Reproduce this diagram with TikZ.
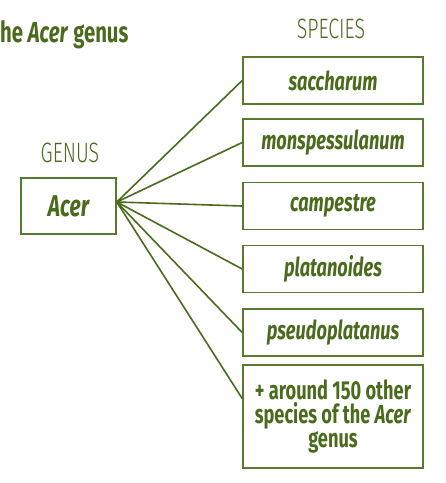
\documentclass[tikz,border=0pt]{standalone}
\usepackage{fontspec}
\setmainfont{Fira Sans}[FakeStretch=0.7]
\newfontfamily\lightfont{Fira Sans Light}[FakeStretch=0.7]
\usepackage{tikz}
\usepackage{xcolor}
\usetikzlibrary{positioning}
\definecolor{AcerGreen}{HTML}{4A6A1C}
\definecolor{AcerEdge}{HTML}{587A2C}
\tikzset{
    % Box styles
    speciesbox/.style={
        rectangle,
        draw=AcerEdge,
        line width=1.6pt,
        minimum width=180pt,
        minimum height=47pt,
        inner sep=0pt,
        align=center,
        text=AcerGreen,
        font=\fontsize{26}{24}\selectfont\bfseries\itshape
    },
    genusbox/.style={
        rectangle,
        draw=AcerEdge,
        line width=1.6pt,
        minimum width=95pt,
        minimum height=56pt,
        inner sep=0pt,
        text=AcerGreen,
        font=\fontsize{30}{30}\selectfont\bfseries\itshape
    },
    % Label styles
    headlabel/.style={
        inner sep=0pt,
        anchor=base,
        text=AcerGreen,
        font=\lightfont\fontsize{28}{28}\selectfont
    },
    % Connector style
    branch/.style={
        draw=AcerGreen,
        line width=1.6pt
    }
}
\begin{document}
\begin{tikzpicture}[x=1pt, y=-1pt]
    \useasboundingbox (0,0) rectangle (446,483);

    % Title (cut at the left edge)
    \node[inner sep=0pt, anchor=base west, text=AcerGreen,
          font=\fontsize{29}{29}\selectfont\bfseries] (title) at (0,42)
          {he \textit{Acer} genus};

    % Column heads
    \node[headlabel] (specieshead) at (331,38) {SPECIES};
    \node[headlabel] (genushead) at (70,162) {GENUS};

    % Genus
    \node[genusbox] (acer) at (68.5,206) {Acer};

    % Species
    \node[speciesbox] (saccharum) at (333,80.5) {saccharum};
    \node[speciesbox] (monspessulanum) at (333,142.5) {monspessulanum};
    \node[speciesbox] (campestre) at (333,206) {campestre};
    \node[speciesbox] (platanoides) at (333,269) {platanoides};
    \node[speciesbox] (pseudoplatanus) at (333,332.5) {pseudoplatanus};
    \node[speciesbox, minimum height=103pt, font=\fontsize{26}{24}\selectfont\bfseries\upshape] (others) at (333,416.5)
          {+ around 150 other\\species of the \textit{Acer}\\genus};

    % Branches
    \coordinate (fork) at ([yshift=4pt]acer.east);
    \draw[branch] (fork) -- (saccharum.west);
    \draw[branch] (fork) -- (monspessulanum.west);
    \draw[branch] (fork) -- (campestre.west);
    \draw[branch] (fork) -- (platanoides.west);
    \draw[branch] (fork) -- (pseudoplatanus.west);
    \draw[branch] (fork) -- ([yshift=18pt]others.west);
\end{tikzpicture}
\end{document}
